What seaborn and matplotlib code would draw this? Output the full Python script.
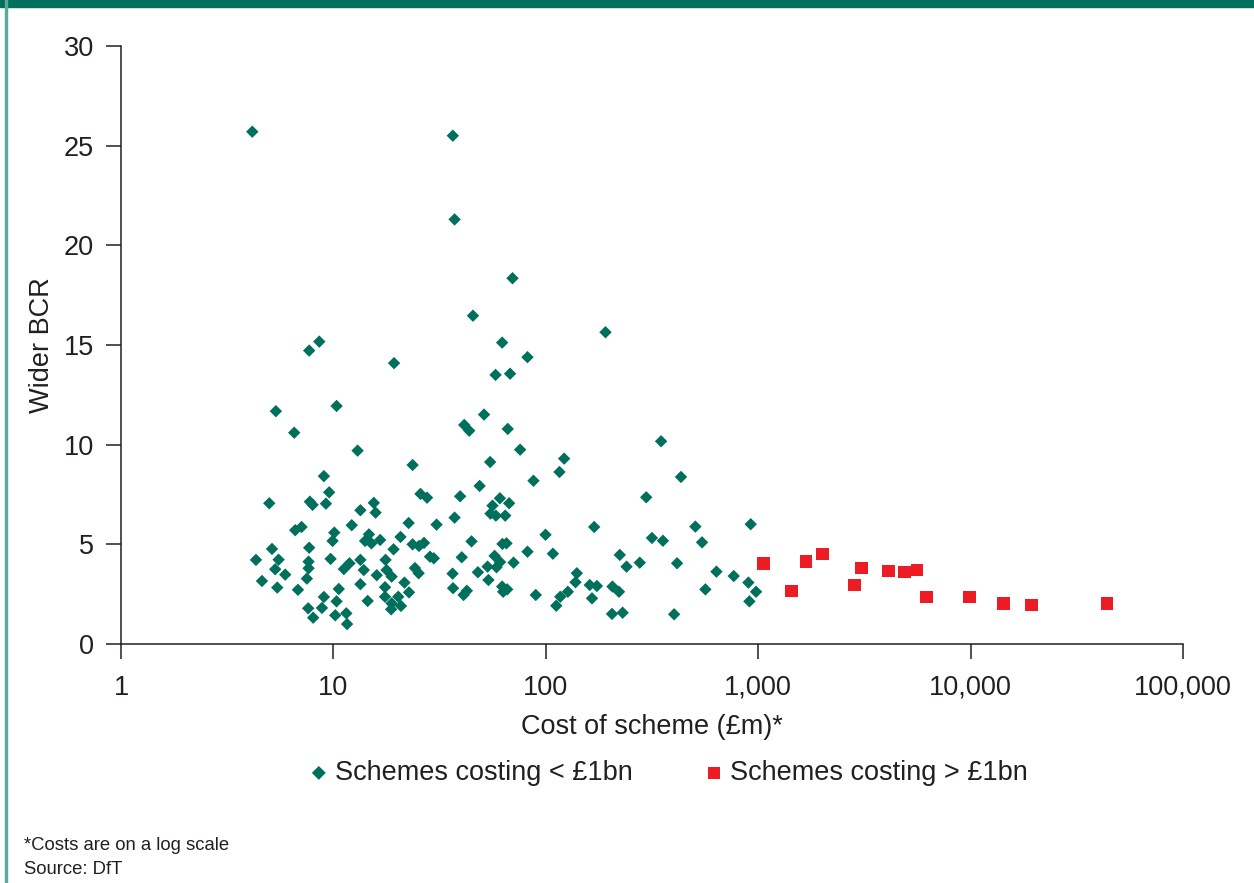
import matplotlib
matplotlib.use("Agg")
import matplotlib.pyplot as plt
import matplotlib.ticker as mticker
from matplotlib.patches import Rectangle
import seaborn as sns
import pandas as pd

# Schemes costing < £1bn: cost (£m) and wider BCR
small_cost = [
    4.15, 36.5, 37.2, 69.7, 45.4, 191, 8.58, 62.3, 7.69, 82.0,
    19.3, 58.0, 67.9, 10.35, 5.36, 51.2, 41.3, 43.6, 66.2, 6.54,
    349, 13.0, 75.7, 122, 54.7, 23.6, 116, 433, 9.02, 87.5,
    48.8, 9.55, 25.7, 27.6, 39.5, 297, 60.8, 4.99, 7.75, 7.98,
    9.22, 15.5, 67.2, 56.1, 13.4, 15.8, 54.9, 58.2, 64.4, 37.2,
    22.6, 12.2, 30.6, 169, 506, 922, 6.61, 7.08, 10.1, 14.7,
    99.7, 316, 356, 544, 9.91, 14.1, 16.6, 15.1, 20.7, 44.7,
    62.5, 65.3, 5.14, 7.69, 19.2, 23.6, 25.3, 26.7, 82.0, 108,
    40.2, 28.5, 29.7, 57.4, 223, 4.32, 5.52, 5.32, 5.93, 4.61,
    5.44, 6.81, 7.64, 7.64, 7.50, 9.70, 11.2, 11.9, 13.4, 13.9,
    16.0, 13.4, 17.6, 17.8, 18.8, 17.5, 21.6, 24.2, 25.2, 22.7,
    9.02, 10.6, 10.35, 7.61, 8.83, 8.03, 10.2, 11.5, 11.6, 14.5,
    17.5, 18.8, 20.2, 20.8, 18.7, 70.5, 53.2, 60.9, 58.6, 47.9,
    53.7, 36.4, 36.6, 41.0, 42.5, 62.3, 65.8, 63.0, 89.7, 140,
    138, 161, 174, 117, 127, 112, 165, 206, 221, 205,
    230, 402, 240, 277, 415, 636, 767, 899, 977, 909,
    564,
]
small_bcr = [
    25.7, 25.5, 21.3, 18.35, 16.47, 15.64, 15.17, 15.12, 14.72, 14.39,
    14.09, 13.5, 13.56, 11.94, 11.68, 11.51, 10.99, 10.70, 10.79, 10.60,
    10.17, 9.70, 9.75, 9.30, 9.13, 8.98, 8.63, 8.38, 8.42, 8.19,
    7.93, 7.61, 7.53, 7.34, 7.41, 7.36, 7.31, 7.06, 7.14, 6.98,
    7.04, 7.08, 7.06, 6.94, 6.71, 6.59, 6.54, 6.44, 6.44, 6.34,
    6.07, 5.96, 5.99, 5.87, 5.89, 6.01, 5.71, 5.87, 5.59, 5.50,
    5.48, 5.32, 5.18, 5.10, 5.17, 5.17, 5.22, 5.05, 5.37, 5.15,
    5.02, 5.05, 4.77, 4.83, 4.75, 5.00, 4.92, 5.07, 4.63, 4.53,
    4.35, 4.38, 4.30, 4.42, 4.47, 4.22, 4.23, 3.75, 3.48, 3.16,
    2.83, 2.72, 4.13, 3.80, 3.28, 4.27, 3.76, 4.05, 4.22, 3.71,
    3.45, 3.00, 4.22, 3.71, 3.38, 2.85, 3.08, 3.81, 3.55, 2.59,
    2.36, 2.76, 2.14, 1.79, 1.81, 1.32, 1.44, 1.54, 1.00, 2.16,
    2.37, 2.04, 2.37, 1.91, 1.74, 4.08, 3.88, 4.11, 3.85, 3.60,
    3.21, 3.53, 2.80, 2.46, 2.67, 2.88, 2.74, 2.62, 2.46, 3.55,
    3.10, 2.96, 2.91, 2.37, 2.62, 1.92, 2.29, 2.88, 2.62, 1.51,
    1.57, 1.49, 3.88, 4.08, 4.05, 3.63, 3.41, 3.08, 2.62, 2.14,
    2.74,
]

# Schemes costing > £1bn
large_cost = [1058, 1432, 1679, 2012, 2845, 3059, 4099, 4875, 5589, 6187,
              9862, 14256, 19364, 43976]
large_bcr = [4.03, 2.66, 4.13, 4.52, 2.95, 3.81, 3.66, 3.61, 3.70, 2.36,
             2.36, 2.04, 1.96, 2.04]

x_ticks = [1, 10, 100, 1000, 10000, 100000]
y_ticks = [0, 5, 10, 15, 20, 25, 30]

GREEN = "#00705C"
RED = "#ED1C24"
INK = "#231F20"

sns.set_theme(style="ticks")
plt.rcParams["font.family"] = ["Liberation Sans", "DejaVu Sans"]
plt.rcParams["text.color"] = INK
plt.rcParams["axes.labelcolor"] = INK
plt.rcParams["xtick.color"] = INK
plt.rcParams["ytick.color"] = INK

small = pd.DataFrame({"cost": small_cost, "bcr": small_bcr})
large = pd.DataFrame({"cost": large_cost, "bcr": large_bcr})

fig = plt.figure(figsize=(12.54, 8.83), dpi=100)
ax = fig.add_axes([121 / 1254, 1 - 644 / 883, 1062 / 1254, 598 / 883])

sns.scatterplot(data=small, x="cost", y="bcr", marker="D", s=40, color=GREEN,
                edgecolor="none", label="Schemes costing < £1bn", ax=ax)
sns.scatterplot(data=large, x="cost", y="bcr", marker="s", s=80, color=RED,
                edgecolor="none", label="Schemes costing > £1bn", ax=ax)

ax.set_xscale("log")
ax.set_xlim(1, 100000)
ax.set_ylim(0, 30)
ax.set_xticks(x_ticks)
ax.set_yticks(y_ticks)
ax.xaxis.set_major_formatter(mticker.FuncFormatter(lambda v, p: f"{int(round(v)):,}"))
ax.xaxis.set_minor_locator(mticker.NullLocator())
ax.tick_params(axis="both", labelsize=19.5, length=11, width=1.1, direction="out")
ax.tick_params(axis="x", pad=11)
ax.tick_params(axis="y", pad=8.5)

for side in ["top", "right"]:
    ax.spines[side].set_visible(False)
for side in ["left", "bottom"]:
    ax.spines[side].set_linewidth(1.1)
    ax.spines[side].set_color(INK)

ax.set_xlabel("Cost of scheme (£m)*", fontsize=19.5, labelpad=10)
ax.set_ylabel("Wider BCR", fontsize=19.5, labelpad=6)

leg = ax.legend(loc="center", bbox_to_anchor=(668 / 1254, 1 - 773 / 883),
                bbox_transform=fig.transFigure, ncol=2, frameon=False,
                fontsize=19.5, handlelength=0.8, handletextpad=0.2,
                columnspacing=2.6)
for handle, size in zip(leg.legend_handles, [50, 75]):
    handle.set_sizes([size])

# frame decorations
fig.add_artist(Rectangle((0, 1 - 7 / 883), 1, 7 / 883, transform=fig.transFigure,
                         color=GREEN, zorder=0))
fig.add_artist(Rectangle((5 / 1254, 0), 2 / 1254, 1, transform=fig.transFigure,
                         color="#5AAA9C", zorder=0))

fig.text(24 / 1254, 1 - 845 / 883, "*Costs are on a log scale", fontsize=13.3,
         va="center", ha="left")
fig.text(24 / 1254, 1 - 869 / 883, "Source: DfT", fontsize=13.3,
         va="center", ha="left")

fig.savefig("out.png", dpi=100)
